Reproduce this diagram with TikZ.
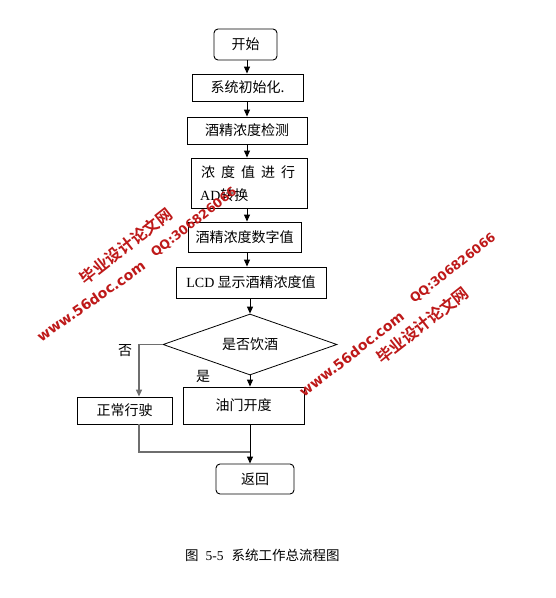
\documentclass[tikz,border=0pt]{standalone}
\usepackage{fontspec}
\setmainfont{Noto Sans CJK SC}
\newfontfamily\tnr{Liberation Serif}
\newfontfamily\wmlat{DejaVu Sans}[BoldFont={DejaVu Sans Bold}]
\newfontfamily\wmcjk{Noto Sans CJK SC}[BoldFont={Noto Sans CJK SC Bold}]
\usetikzlibrary{arrows.meta,shapes.geometric}
\definecolor{wmred}{RGB}{190,25,25}
\definecolor{lgray}{RGB}{110,110,110}
\tikzset{
  box/.style={draw=black,line width=0.9pt,rectangle,inner sep=0pt,font=\fontsize{14}{16}\selectfont},
  term/.style={box,rounded corners=4pt},
  arr/.style={line width=0.9pt,-{Triangle[length=7pt,width=6pt]}},
  garr/.style={draw=lgray,line width=1.3pt,-{Triangle[length=7pt,width=6pt]}},
  gline/.style={draw=lgray,line width=1.3pt},
  lbl/.style={font=\fontsize{14}{16}\selectfont,inner sep=0pt},
  wm/.style={text=wmred,inner sep=0pt,rotate=38},
}
\begin{document}
\begin{tikzpicture}[x=1pt,y=-1pt]
\useasboundingbox (0,0) rectangle (556,598);
\fill[white] (0,0) rectangle (556,598);
\coordinate (spine) at (247,0);
\coordinate (nox) at (139,0);
\coordinate (mergey) at (0,452);

\node[term,minimum width=63pt,minimum height=31pt] (start) at (245.5,44.5) {开始};
\node[box,minimum width=111pt,minimum height=27pt] (init) at (247.5,87.5) {系统初始化.};
\node[box,minimum width=120pt,minimum height=27pt] (detect) at (247,130.5) {酒精浓度检测};
\node[box,minimum width=116pt,minimum height=50pt] (ad) at (249,183) {};
\node[lbl,anchor=west] (adl1) at (201,172) {浓\hspace{6pt}度\hspace{6pt}值\hspace{6pt}进\hspace{6pt}行};
\node[lbl,anchor=west] (adl2) at (200,195) {{\tnr AD}转换};
\node[box,minimum width=113pt,minimum height=30pt] (digit) at (244.5,237) {酒精浓度数字值};
\node[box,minimum width=150pt,minimum height=31pt] (lcd) at (251,282.5) {{\tnr LCD} 显示酒精浓度值};
\node[draw=black,line width=0.8pt,diamond,aspect=2.85,minimum width=174pt,minimum height=61pt,inner sep=0pt,font=\fontsize{14}{16}\selectfont] (dec) at (250,344.5) {是否饮酒};
\node[box,minimum width=95pt,minimum height=27pt] (normal) at (124.5,410.5) {正常行驶};
\node[box,minimum width=121pt,minimum height=37pt] (oil) at (243.5,405.5) {油门开度};
\node[term,minimum width=78pt,minimum height=30pt] (back) at (255,479) {返回};

\node[lbl] (no) at (125,351) {否};
\node[lbl] (yes) at (203,376) {是};

\draw[arr] (start.south -| spine) -- (init.north -| spine);
\draw[arr] (init.south -| spine) -- (detect.north -| spine);
\draw[arr] (detect.south -| spine) -- (ad.north -| spine);
\draw[arr] (ad.south -| spine) -- (digit.north -| spine);
\draw[arr] (digit.south -| spine) -- (lcd.north -| spine);
\draw[arr] (lcd.south -| dec.north) -- (dec.north);
\draw[arr] (dec.south) -- (oil.north -| dec.south);
\draw[garr] (dec.west) -- (dec.west -| nox) -- (normal.north -| nox);
\draw[gline] (normal.south -| nox) -- (mergey -| nox) -- (mergey -| dec.south);
\draw[arr] (oil.south -| dec.south) -- (back.north -| dec.south);

\node[inner sep=0pt,anchor=west,font=\fontsize{13.5}{15}\selectfont] (cap) at (185,555) {图\hspace{7pt}{\tnr 5-5}\hspace{8pt}系统工作总流程图};

% watermarks
\node[wm,font=\wmcjk\bfseries\fontsize{16}{18}\selectfont] (wm1) at (126,246) {毕业设计论文网};
\node[wm,font=\wmlat\bfseries\fontsize{12.5}{15}\selectfont] (wm2) at (194,222.5) {QQ:306826066};
\node[wm,rotate=-3,font=\wmlat\bfseries\fontsize{14}{16}\selectfont] (wm3) at (91,301) {www.56doc.com};
\node[wm,font=\wmlat\bfseries\fontsize{14}{16}\selectfont] (wm4) at (351.5,354) {www.56doc.com};
\node[wm,font=\wmlat\bfseries\fontsize{12.5}{15}\selectfont] (wm5) at (453,268.5) {QQ:306826066};
\node[wm,font=\wmcjk\bfseries\fontsize{16}{18}\selectfont] (wm6) at (422.5,325) {毕业设计论文网};
\end{tikzpicture}
\end{document}
